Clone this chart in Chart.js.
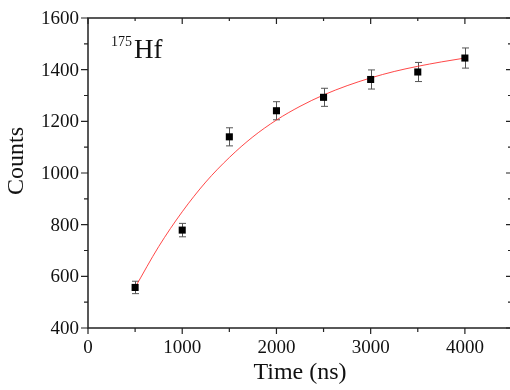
<!DOCTYPE html>
<html>
<head>
<meta charset="utf-8">
<script src="https://cdn.jsdelivr.net/npm/chart.js@4/dist/chart.umd.min.js"></script>
<style>
html,body{margin:0;padding:0;background:#fff;overflow:hidden;width:510px;height:390px;}
#wrap{position:relative;width:520px;height:390px;}
</style>
</head>
<body>
<div id="wrap"><canvas id="c" width="520" height="390"></canvas></div>
<script>
// Measured data (Time in ns, Counts)
const times = [500, 1000, 1500, 2000, 2500, 3000, 3500, 4000];
const counts = [557, 779, 1140, 1241, 1293, 1362, 1391, 1445];
const errors = [24, 26, 35, 35, 35, 37, 37, 39];
// Fit curve
const fitTimes = [500, 750, 1000, 1250, 1500, 1750, 2000, 2250, 2500, 2750, 3000, 3250, 3500, 3750, 4000];
const fitCounts = [557, 715, 850, 965, 1060, 1140, 1205, 1258, 1302, 1338, 1368, 1393, 1413, 1430, 1445];
// Axis ticks
const xTickLabels = [0, 1000, 2000, 3000, 4000];
const xMinorTicks = [500, 1500, 2500, 3500];
const yTickLabels = [400, 600, 800, 1000, 1200, 1400, 1600];
const yMinorTicks = [500, 700, 900, 1100, 1300, 1500];
const xTitle = 'Time (ns)';
const yTitle = 'Counts';
const isotopeMass = '175';
const isotopeSymbol = 'Hf';

const FONT = '"Liberation Serif", "Times New Roman", serif';

const axesPlugin = {
  id: 'axesPlugin',
  beforeDatasetsDraw(chart) {
    const ctx = chart.ctx, x = chart.scales.x, y = chart.scales.y;
    ctx.save();
    ctx.strokeStyle = '#555';
    ctx.lineWidth = 1;
    times.forEach((t, i) => {
      const px = Math.round(x.getPixelForValue(t)) + 0.5;
      const top = y.getPixelForValue(counts[i] + errors[i]);
      const bot = y.getPixelForValue(counts[i] - errors[i]);
      ctx.beginPath();
      ctx.moveTo(px, top); ctx.lineTo(px, bot);
      ctx.moveTo(px - 3.5, top); ctx.lineTo(px + 3.5, top);
      ctx.moveTo(px - 3.5, bot); ctx.lineTo(px + 3.5, bot);
      ctx.stroke();
    });
    ctx.restore();
  },
  afterDraw(chart) {
    const ctx = chart.ctx, x = chart.scales.x, y = chart.scales.y;
    const a = chart.chartArea;
    ctx.save();
    ctx.strokeStyle = '#222';
    ctx.lineWidth = 1.5;
    ctx.strokeRect(a.left, a.top, a.right - a.left, a.bottom - a.top);
    ctx.lineWidth = 1.2;
    ctx.beginPath();
    xTickLabels.forEach(v => {
      const px = x.getPixelForValue(v);
      ctx.moveTo(px, a.bottom); ctx.lineTo(px, a.bottom + 6);
      ctx.moveTo(px, a.top); ctx.lineTo(px, a.top + 6);
    });
    xMinorTicks.forEach(v => {
      const px = x.getPixelForValue(v);
      ctx.moveTo(px, a.bottom); ctx.lineTo(px, a.bottom + 4);
      ctx.moveTo(px, a.top); ctx.lineTo(px, a.top + 3);
    });
    yTickLabels.forEach(v => {
      const py = y.getPixelForValue(v);
      ctx.moveTo(a.left - 7, py); ctx.lineTo(a.left, py);
      ctx.moveTo(a.right, py); ctx.lineTo(a.right - 6, py);
    });
    yMinorTicks.forEach(v => {
      const py = y.getPixelForValue(v);
      ctx.moveTo(a.left - 4, py); ctx.lineTo(a.left, py);
      ctx.moveTo(a.right, py); ctx.lineTo(a.right - 4, py);
    });
    ctx.stroke();

    ctx.fillStyle = '#111';
    ctx.font = '19px ' + FONT;
    ctx.textAlign = 'center';
    ctx.textBaseline = 'middle';
    xTickLabels.forEach(v => {
      ctx.fillText(String(v), x.getPixelForValue(v), a.bottom + 20);
    });
    ctx.textAlign = 'right';
    yTickLabels.forEach(v => {
      ctx.fillText(String(v), a.left - 9, y.getPixelForValue(v) + 1);
    });

    ctx.font = '24px ' + FONT;
    ctx.textAlign = 'center';
    ctx.fillText(xTitle, (a.left + a.right) / 2, 373);
    ctx.save();
    ctx.translate(17, 161);
    ctx.rotate(-Math.PI / 2);
    ctx.fillText(yTitle, 0, 0);
    ctx.restore();

    ctx.textAlign = 'left';
    ctx.textBaseline = 'alphabetic';
    ctx.font = '14px ' + FONT;
    ctx.fillText(isotopeMass, 111, 46);
    ctx.font = '27px ' + FONT;
    ctx.fillText(isotopeSymbol, 134, 58);
    ctx.restore();
  }
};

new Chart(document.getElementById('c'), {
  type: 'scatter',
  data: {
    datasets: [
      {
        type: 'line',
        data: fitTimes.map((t, i) => ({x: t, y: fitCounts[i]})),
        borderColor: 'rgba(255,40,40,0.85)',
        borderWidth: 1,
        pointRadius: 0,
        fill: false,
        cubicInterpolationMode: 'monotone',
        order: 2
      },
      {
        data: times.map((t, i) => ({x: t, y: counts[i]})),
        pointStyle: 'rect',
        pointRadius: 5,
        pointBackgroundColor: '#000',
        pointBorderColor: '#000',
        pointBorderWidth: 0,
        order: 1
      }
    ]
  },
  options: {
    responsive: false,
    animation: false,
    devicePixelRatio: 1,
    layout: {padding: {left: 88, right: 8, top: 18, bottom: 62}},
    plugins: {legend: {display: false}, tooltip: {enabled: false}},
    scales: {
      x: {type: 'linear', min: 0, max: 4500, display: false},
      y: {type: 'linear', min: 400, max: 1600, display: false}
    }
  },
  plugins: [axesPlugin]
});
</script>
</body>
</html>
